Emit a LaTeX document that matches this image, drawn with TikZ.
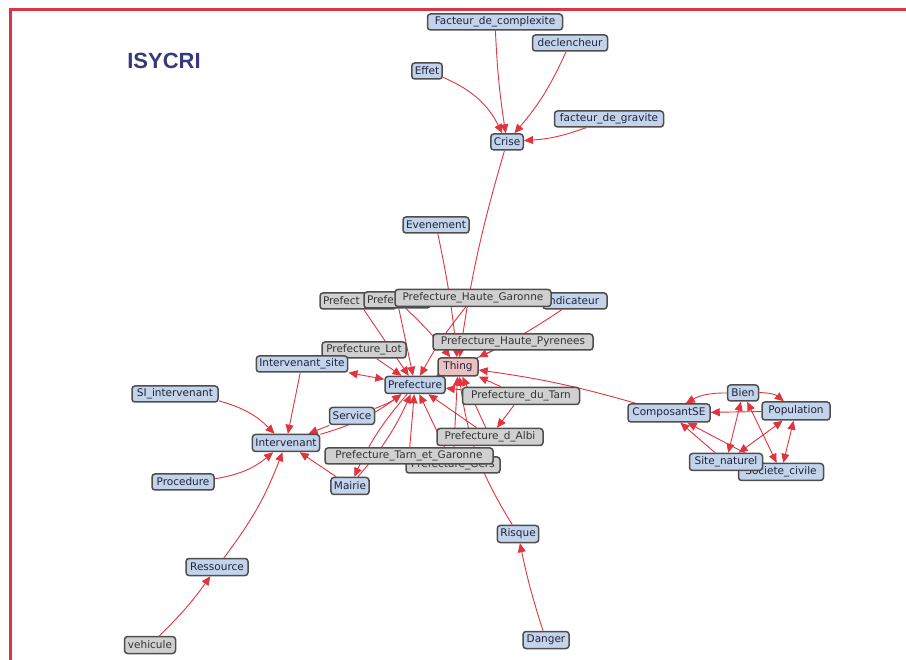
\documentclass[tikz,border=0pt]{standalone}
\usepackage{fontspec}
\setsansfont{DejaVu Sans}
\newfontfamily\titlefont{Liberation Sans}
\usetikzlibrary{arrows.meta,backgrounds}
\definecolor{nodeblue}{HTML}{C3D3EA}
\definecolor{nodegray}{HTML}{D0D0D0}
\definecolor{nodepink}{HTML}{ECC0C0}
\definecolor{bordergray}{HTML}{4E4E4E}
\definecolor{edgered}{HTML}{E2343E}
\definecolor{framered}{HTML}{D93545}
\definecolor{titleblue}{HTML}{363A7C}
\definecolor{textdark}{HTML}{1E2340}
\begin{document}
\begin{tikzpicture}[x=1pt,y=-1pt,
  box/.style={draw=bordergray, line width=1.5pt, rounded corners=3pt, fill=nodeblue,
    text=textdark, font=\sffamily\fontsize{10.5}{12}\selectfont,
    inner xsep=3pt, inner ysep=0pt, minimum height=16pt},
  gbox/.style={box, fill=nodegray, text=black!80},
  lbox/.style={gbox, align=left},
  link/.style={draw=edgered, line width=0.9pt, -{Triangle[length=9pt,width=8pt]}},
  dlink/.style={draw=edgered, line width=0.9pt, {Triangle[length=9pt,width=8pt]}-{Triangle[length=9pt,width=8pt]}},
]
\useasboundingbox (0,0) rectangle (906,660);
\draw[framered, line width=2.8pt] (10.5,661) -- (10.5,9.5) -- (907,9.5);

\node[font=\titlefont\bfseries\fontsize{22}{24}\selectfont, text=titleblue] (title) at (164,61) {ISYCRI};

% top cluster
\node[box, minimum width=135pt] (fdc) at (495,22) {Facteur\_de\_complexite};
\node[box, minimum width=75pt] (decl) at (570,43) {declencheur};
\node[box, minimum width=30pt] (effet) at (427,71) {Effet};
\node[box, minimum width=109pt] (fdg) at (609,119) {facteur\_de\_gravite};
\node[box, minimum width=32pt] (crise) at (507,142) {Crise};
\node[box, minimum width=66pt] (even) at (436,225) {Evenement};

% row of prefectures
\node[lbox, text width=70pt] (p1) at (358,301) {Prefect};
\node[box, align=left, text width=58pt] (indic) at (575,301) {Indicateur};
\node[lbox, text width=60pt] (p2) at (397,300) {Prefe};
\node[gbox, minimum width=156pt, minimum height=17pt] (hg) at (473,298) {Prefecture\_Haute\_Garonne};

\node[gbox, minimum width=84pt] (lot) at (364,350) {Prefecture\_Lot};
\node[gbox, minimum width=160pt] (hp) at (513,342) {Prefecture\_Haute\_Pyrenees};
\node[box, minimum width=91pt] (site) at (302,364) {Intervenant\_site};
\node[box, fill=nodepink, minimum width=40pt, minimum height=18pt] (thing) at (458,367) {Thing};
\node[box, minimum width=60pt, minimum height=17pt] (pref) at (415,385) {Prefecture};
\node[box, minimum width=86pt] (si) at (175,394) {SI\_intervenant};
\node[box, minimum width=45pt, minimum height=17pt] (service) at (352,416) {Service};
\node[box, minimum width=67pt, minimum height=17pt] (interv) at (286,443) {Intervenant};
\node[gbox, minimum width=117pt, minimum height=17pt] (dutarn) at (521,396) {Prefecture\_du\_Tarn};
\node[gbox, minimum width=106pt, minimum height=17pt] (dalbi) at (490,437) {Prefecture\_d\_Albi};
\node[gbox, minimum width=94pt] (gers) at (453,465) {Prefecture\_Gers};
\node[gbox, minimum width=168pt] (tg) at (409,456) {Prefecture\_Tarn\_et\_Garonne};
\node[box, minimum width=37pt, minimum height=17pt] (mairie) at (350,486) {Mairie};
\node[box, minimum width=62pt] (proc) at (183,482) {Procedure};
\node[box, minimum width=62pt, minimum height=17pt] (ress) at (217,567) {Ressource};
\node[gbox, minimum width=51pt, minimum height=17pt] (vehic) at (150,645) {vehicule};
\node[box, minimum width=41pt, minimum height=17pt] (risque) at (518,534) {Risque};
\node[box, minimum width=46pt, minimum height=17pt] (danger) at (546,640) {Danger};

% right cluster
\node[box, minimum width=82pt, minimum height=18pt] (comp) at (669,413) {ComposantSE};
\node[box, minimum width=31pt] (bien) at (743,393) {Bien};
\node[box, minimum width=68pt, minimum height=18pt] (pop) at (796,411) {Population};
\node[box, minimum width=85pt, minimum height=17pt] (soc) at (781,472) {Societe\_civile};
\node[box, minimum width=73pt, minimum height=17pt] (snat) at (726,462) {Site\_naturel};

\begin{scope}[on background layer]
\draw[link] (fdc) to[bend right=3] (crise);
\draw[link] (decl) to[bend left=8] (crise);
\draw[link] (effet) to[bend left=20] (crise);
\draw[link] (fdg) to[bend left=8] (crise);
\draw[link] (crise) to[bend right=4] (thing);
\draw[link] (even) to[bend left=3] (thing);
\draw[link] (indic) to[bend left=4] (thing);
\draw[link] (p2) to[bend left=4] (thing);

\draw[link] (p1) to (pref);
\draw[link] (p2) to (pref);
\draw[link] (hg) to[bend right=5] (pref);
\draw[link] (lot) to (pref);
\draw[link] (hp) to (pref);
\draw[dlink] (site) to (pref);
\draw[link] (service) to[bend right=8] (pref);
\draw[link] (tg) to (pref);
\draw[link] (gers) to (pref);
\draw[link] (dalbi) to (pref);
\draw[link] (dutarn) to (pref);
\draw[link] (pref) to[bend right=8] (mairie);
\draw[link] (mairie) to[bend right=8] (pref);
\draw[link] (interv) to[bend right=10] (pref);

\draw[link] (gers) to (thing);
\draw[link] (dalbi) to (thing);
\draw[link] (dutarn) to (thing);
\draw[link] (comp) to[bend right=4] (thing);
\draw[link] (risque) to[bend left=12] (thing);
\draw[link] (dutarn) to (dalbi);

\draw[link] (site) to (interv);
\draw[link] (si) to[bend left=15] (interv);
\draw[link] (service) to (interv);
\draw[link] (proc) to[bend right=15] (interv);
\draw[link] (ress) to[bend right=8] (interv);
\draw[link] (mairie) to (interv);
\draw[link] (vehic) to[bend right=5] (ress);
\draw[link] (danger) to[bend left=3] (risque);

\draw[link] (bien) to[bend right=15] (comp);
\draw[link] (pop) to (comp);
\draw[link] (snat) to (comp);
\draw[link] (soc) to (comp);
\draw[link] (bien) to[bend left=20] (pop);
\draw[dlink] (bien) to (snat);
\draw[dlink] (bien) to (soc);
\draw[dlink] (pop) to (snat);
\draw[dlink] (pop) to (soc);
\end{scope}
\end{tikzpicture}
\end{document}
